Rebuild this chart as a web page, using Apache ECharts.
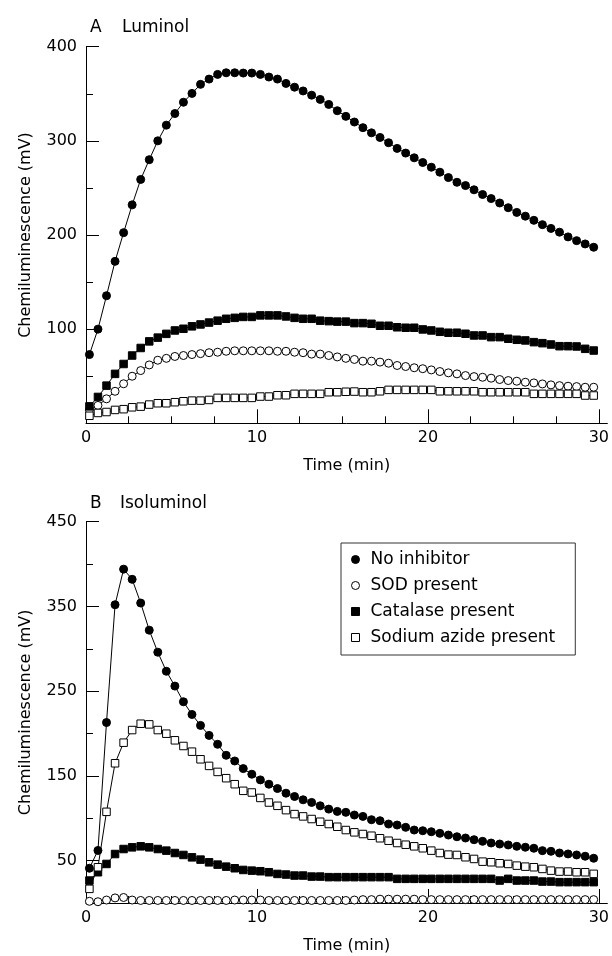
<!DOCTYPE html>
<html>
<head>
<meta charset="utf-8">
<script src="https://cdn.jsdelivr.net/npm/echarts@6/dist/echarts.min.js"></script>
<style>
html,body{margin:0;padding:0;background:#fff;}
#chart{width:612px;height:956px;}
</style>
</head>
<body>
<div id="chart"></div>
<script>
// Time points (min)
const time = [0.2,0.7,1.2,1.7,2.2,2.7,3.2,3.7,4.2,4.7,5.2,5.7,6.2,6.7,7.2,7.7,8.2,8.7,9.2,9.7,
  10.2,10.7,11.2,11.7,12.2,12.7,13.2,13.7,14.2,14.7,15.2,15.7,16.2,16.7,17.2,17.7,18.2,18.7,19.2,19.7,
  20.2,20.7,21.2,21.7,22.2,22.7,23.2,23.7,24.2,24.7,25.2,25.7,26.2,26.7,27.2,27.7,28.2,28.7,29.2,29.7];

const seriesNames = ['No inhibitor','SOD present','Catalase present','Sodium azide present'];

// Panel A: Luminol (mV)
const lumNoInhibitor = [73,100,135.5,172,202.5,232,259,280,300,316.7,329,341,350.4,360,365.6,370.6,372.3,372.3,372,372,
  370.6,367.8,365.6,361,357,353,348.5,344,338.7,332,326,320,314,308.5,303.6,298,292,287,282,277,
  272,266.7,261,256,252.5,248,243,238.7,234,229,224,220,215.6,211,207,203,198,194,190.5,187];
const lumSOD = [14,19,26,34,42,50,56,62,67,69,71,72,73,74,75,75.5,76.5,77,77,77,
  77,77,76.5,76.5,75.5,75,73.5,73.5,72,70.5,69,67.8,66,66,65,63.8,61.4,60.3,59,58,
  56.7,55,53.6,52.5,50.7,49.6,48.9,47.9,46.5,45.4,44.7,43.6,42.9,41.8,40.8,40,39.4,39,38.3,38.3];
const lumCatalase = [18,28,40,52.5,63,72,80,87,91,95,98.6,100.4,103,105,107,109,111,112,113,113,
  114.6,114.6,114.6,113.5,112,111,111,109,108.5,108,108,106.4,106.4,105.7,103.6,103.6,102,101.5,101.5,99.7,
  98.6,97.2,96.2,96.2,95.1,93.3,93.3,91.5,91.5,89.8,88.7,88,86.2,85.1,83.7,81.9,81.9,81.6,79.1,77.3];
const lumAzide = [8,11,12,14.2,15,17,17.7,19.9,21.3,21.3,22.4,23.4,24.1,24.1,24.8,27,27,27,27,27,
  28.4,28.4,29.8,29.8,31.3,31.3,31.3,31.3,33,33,33.5,33.7,33,33,34,35.5,35.5,35.5,35.5,35.5,
  35.5,34,34,34,34,34,33,33,33,33,33,33,31.3,31.3,31.3,31.3,31.3,31.3,29.5,29.5];

// Panel B: Isoluminol (mV)
const isoNoInhibitor = [41,62,213,352,394,382,354,322,296,273.5,256,237.5,222.5,209.6,197.8,187.3,174.3,167.6,158.6,152,
  145.3,140.2,135.1,129.6,125.7,121.8,118.7,114.7,110.8,108.1,107,103.8,102.2,98.3,97.1,93.2,92,89.3,86.1,85.3,
  84.1,82.2,80.2,78.2,76.7,74.7,72.8,70.8,69.6,68.5,66.9,65.8,64.6,61.8,61,59,57.9,56.7,55.2,52.8];
const isoSOD = [2,1.5,3.5,6,6.5,3.5,3,3,3,3,3,3,3,3,3,3,3,3.5,3.5,3.5,
  3.5,3,3,3,3,3,3,3,3,3,3,3.5,4,4,4.5,4.5,4.5,4.5,4.5,4,
  4,4,4,4,4,4,4,4,4,4,4,4,4,4,4,4,4,4,4,4];
const isoCatalase = [26.5,36.3,46.1,57.8,63.7,65.7,66.9,65.7,63.7,61.8,59,56.7,53.9,51.2,48,45.3,42.9,41,39,38.2,
  37.5,36.3,34.3,33.6,32.4,32.4,31.2,31.2,30.5,30.5,30.5,30.5,30.5,30.5,30.5,30.5,28.5,28.5,28.5,28.5,
  28.5,28.5,28.5,28.5,28.5,28.5,28.5,28.5,26.5,28.5,26.5,26.5,26.5,25.3,25.3,24.6,24.6,24.6,24.6,24.6];
const isoAzide = [16.7,42.2,107.6,164.9,189.2,204.1,211.6,210.8,204.1,199.8,192,185.3,178.6,169.6,161.8,154.7,147.3,140.2,132.4,130.4,
  124,118.6,114.7,109.6,104.9,102.2,99.1,95.9,93.2,90,86.1,83.4,81.4,79.4,76.4,73.5,70.8,68.8,66.9,64.6,
  61.8,59,57.1,56.7,54,52,48.8,48.1,46.9,46.1,44.1,42.9,42.2,40.2,38.2,37.1,37.1,36.3,36.3,34.4];

// Tick values
const xTickLabels = [0,10,20,30];
const xMinorTicks = [2.5,5,7.5,12.5,15,17.5,22.5,25,27.5];
const yTicksA = [100,200,300,400];
const yMinorA = [50,150,250,350];
const yTicksB = [50,150,250,350,450];
const yMinorB = [100,200,300,400];

const FONT = 'DejaVu Sans';
const pair = arr => arr.map((v,i) => [time[i], v]);

const markerStyles = [
  {symbol:'circle', size:8, fill:'#000'},
  {symbol:'circle', size:8, fill:'#fff'},
  {symbol:'rect', size:7.5, fill:'#000'},
  {symbol:'rect', size:7.5, fill:'#fff'}
];

function mkSeries(name, data, idx, axisIdx){
  const m = markerStyles[idx];
  return {
    name: name, type:'line', data: pair(data),
    xAxisIndex: axisIdx, yAxisIndex: axisIdx,
    symbol: m.symbol, symbolSize: m.size, showAllSymbol: true,
    lineStyle: {color:'#000', width:1},
    itemStyle: {color: m.fill, borderColor:'#000', borderWidth:1},
    emphasis: {disabled:true},
    animation:false, z: 3 + idx
  };
}

function xAxes(gridIndex){
  return [
    {type:'value', gridIndex, min:0, max:30.5,
     name:'Time (min)', nameLocation:'middle', nameGap:35,
     nameTextStyle:{fontFamily:FONT, fontSize:16, color:'#000'},
     axisLine:{lineStyle:{color:'#000', width:1}},
     axisTick:{inside:true, length:14, customValues:xTickLabels, lineStyle:{color:'#000'}},
     axisLabel:{customValues:xTickLabels, fontFamily:FONT, fontSize:16, color:'#000', margin:7},
     splitLine:{show:false}},
    {type:'value', gridIndex, min:0, max:30.5, position:'bottom',
     axisLine:{show:false},
     axisTick:{inside:true, length:7, customValues:xMinorTicks, lineStyle:{color:'#000'}},
     axisLabel:{show:false}, splitLine:{show:false}}
  ];
}
function yAxes(gridIndex, max, ticks, minor, nameGap){
  return [
    {type:'value', gridIndex, min:0, max:max,
     name:'Chemiluminescence (mV)', nameLocation:'middle', nameGap:nameGap, nameRotate:90,
     nameTextStyle:{fontFamily:FONT, fontSize:16, color:'#000'},
     axisLine:{show:true, lineStyle:{color:'#000', width:1}},
     axisTick:{show:true, inside:true, length:13, customValues:ticks, lineStyle:{color:'#000'}},
     axisLabel:{customValues:ticks, fontFamily:FONT, fontSize:16, color:'#000', margin:9},
     splitLine:{show:false}},
    {type:'value', gridIndex, min:0, max:max, position:'left',
     axisLine:{show:false},
     axisTick:{show:true, inside:true, length:7, customValues:minor, lineStyle:{color:'#000'}},
     axisLabel:{show:false}, splitLine:{show:false}}
  ];
}

const chart = echarts.init(document.getElementById('chart'), null, {renderer:'canvas'});
const option = {
  backgroundColor:'#fff',
  animation:false,
  title:[
    {text:'A', left:85, top:14, textStyle:{fontFamily:FONT, fontSize:17, fontWeight:'normal', color:'#000'}},
    {text:'Luminol', left:117, top:14, textStyle:{fontFamily:FONT, fontSize:17, fontWeight:'normal', color:'#000'}},
    {text:'B', left:85, top:490, textStyle:{fontFamily:FONT, fontSize:17, fontWeight:'normal', color:'#000'}},
    {text:'Isoluminol', left:115, top:490, textStyle:{fontFamily:FONT, fontSize:17, fontWeight:'normal', color:'#000'}}
  ],
  legend:{
    orient:'vertical', left:341, top:543,
    borderColor:'#333', borderWidth:1, padding:[8,20,9,10],
    itemGap:9, itemWidth:8, itemHeight:8,
    textStyle:{fontFamily:FONT, fontSize:17, color:'#000', padding:[0,0,0,6]},
    selectedMode:false,
    data:[
      {name:seriesNames[0], icon:'circle', itemStyle:{color:'#000', borderColor:'#000', borderWidth:1}},
      {name:seriesNames[1], icon:'circle', itemStyle:{color:'#fff', borderColor:'#000', borderWidth:1}},
      {name:seriesNames[2], icon:'rect', itemStyle:{color:'#000', borderColor:'#000', borderWidth:1}},
      {name:seriesNames[3], icon:'rect', itemStyle:{color:'#fff', borderColor:'#000', borderWidth:1}}
    ]
  },
  grid:[
    {left:86, right:3.4, top:46.7, height:376.6},
    {left:86, right:3.4, top:521.7, height:381.3}
  ],
  xAxis:[...xAxes(0), ...xAxes(1)],
  yAxis:[...yAxes(0, 400, yTicksA, yMinorA, 52), ...yAxes(1, 450, yTicksB, yMinorB, 52)],
  series:[
    mkSeries(seriesNames[3], lumAzide, 3, 0),
    mkSeries(seriesNames[1], lumSOD, 1, 0),
    mkSeries(seriesNames[2], lumCatalase, 2, 0),
    mkSeries(seriesNames[0], lumNoInhibitor, 0, 0),
    mkSeries(seriesNames[1], isoSOD, 1, 2),
    mkSeries(seriesNames[2], isoCatalase, 2, 2),
    mkSeries(seriesNames[3], isoAzide, 3, 2),
    mkSeries(seriesNames[0], isoNoInhibitor, 0, 2)
  ]
};
chart.setOption(option);
</script>
</body>
</html>
